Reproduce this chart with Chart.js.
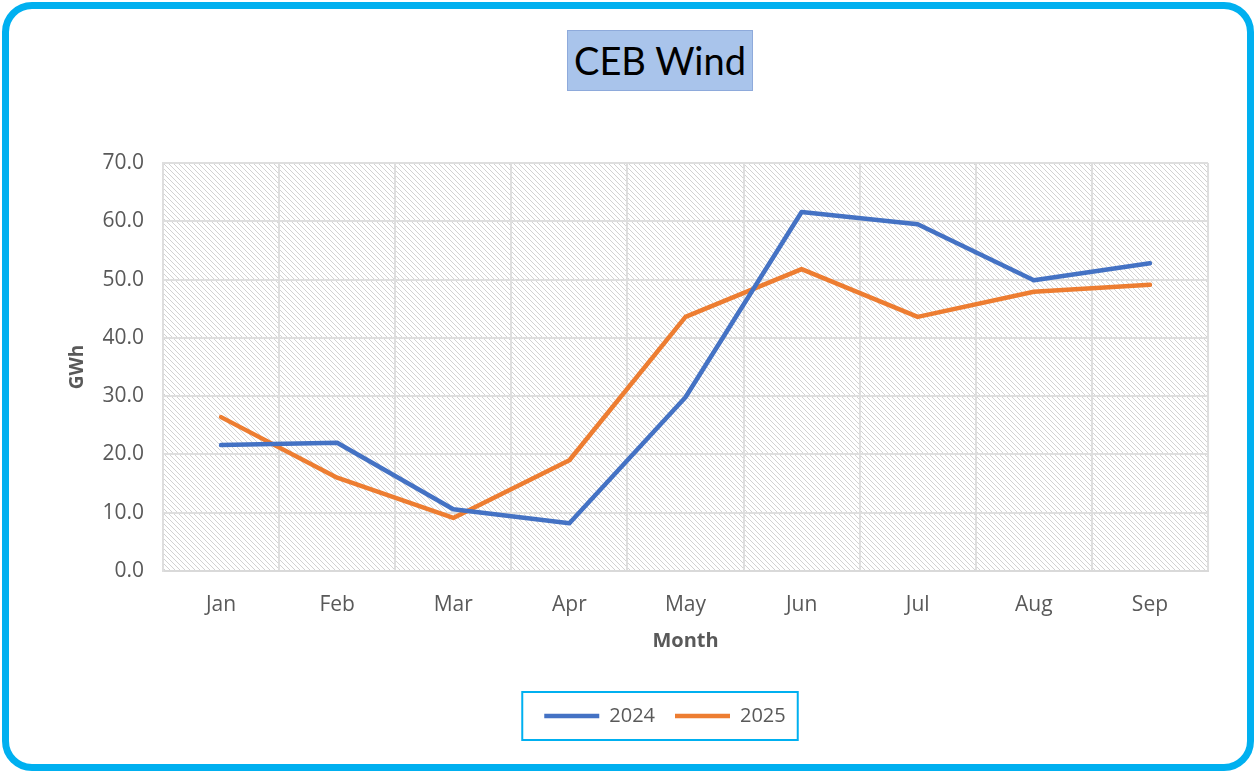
<!DOCTYPE html>
<html>
<head>
<meta charset="utf-8">
<script src="https://cdn.jsdelivr.net/npm/chart.js@4.4.0/dist/chart.umd.min.js"></script>
<style>
  html, body { margin: 0; padding: 0; background: #fff; }
  #frame {
    position: absolute; left: 2px; top: 2px; width: 1252px; height: 769px;
    box-sizing: border-box; border: 7px solid #00B0F0; border-radius: 30px;
  }
  #wrap { position: absolute; left: 0; top: 0; width: 1256px; height: 773px; }
  #title {
    position: absolute; left: 567px; top: 30px; width: 186px; height: 61px;
    box-sizing: border-box; background: #A9C4EB; border: 1px solid #8EAADB;
    font-family: Lato, sans-serif; font-size: 38px; color: #000;
    text-align: center; line-height: 59px;
  }
</style>
</head>
<body>
<div id="frame"></div>
<div id="wrap"><canvas id="chart" width="1256" height="773"></canvas></div>
<div id="title">CEB Wind</div>
<script>
// Données (GWh)
const months = ['Jan', 'Feb', 'Mar', 'Apr', 'May', 'Jun', 'Jul', 'Aug', 'Sep'];
const wind2024 = [21.6, 22.0, 10.6, 8.2, 29.8, 61.6, 59.5, 49.9, 52.8];
const wind2025 = [26.4, 16.0, 9.1, 19.0, 43.6, 51.8, 43.6, 47.9, 49.1];
const seriesNames = ['2024', '2025'];

const textColor = '#595959';
const gridColor = '#DEDEDE';
const fontFamily = 'Open Sans';
const legendShift = 30;

// Motif hachuré du fond
function makeHatch() {
  const n = 5;
  const c = document.createElement('canvas');
  c.width = n; c.height = n;
  const g = c.getContext('2d');
  g.fillStyle = '#fff';
  g.fillRect(0, 0, n, n);
  g.fillStyle = '#D2D2D2';
  for (let i = 0; i < n; i++) {
    g.fillRect(i, i, 1, 1);
  }
  return c;
}

const hatchPlugin = {
  id: 'hatch',
  beforeDraw(chart) {
    const { ctx, chartArea: a } = chart;
    ctx.save();
    ctx.fillStyle = ctx.createPattern(makeHatch(), 'repeat');
    ctx.fillRect(a.left, a.top, a.right - a.left, a.bottom - a.top);
    ctx.restore();
  }
};

// Décale la légende et trace son cadre
const legendBoxPlugin = {
  id: 'legendBox',
  afterLayout(chart) {
    const lg = chart.legend;
    lg.left += legendShift;
    lg.right += legendShift;
    lg.legendHitBoxes.forEach(b => { b.left += legendShift; });
  },
  afterDraw(chart) {
    const boxes = chart.legend.legendHitBoxes;
    if (!boxes || !boxes.length) return;
    const first = boxes[0], last = boxes[boxes.length - 1];
    const x0 = first.left - 22, x1 = last.left + last.width + 12;
    const y0 = first.top - 14, y1 = first.top + first.height + 14;
    const ctx = chart.ctx;
    ctx.save();
    ctx.strokeStyle = '#00B0F0';
    ctx.lineWidth = 2;
    ctx.strokeRect(x0, y0, x1 - x0, y1 - y0);
    ctx.restore();
  }
};

const ctx = document.getElementById('chart').getContext('2d');
new Chart(ctx, {
  type: 'line',
  data: {
    labels: months,
    datasets: [
      {
        label: seriesNames[0],
        data: wind2024,
        borderColor: '#4472C4',
        backgroundColor: '#4472C4',
        borderWidth: 4.5,
        borderCapStyle: 'round',
        borderJoinStyle: 'round',
        pointRadius: 0,
        tension: 0
      },
      {
        label: seriesNames[1],
        data: wind2025,
        borderColor: '#ED7D31',
        backgroundColor: '#ED7D31',
        borderWidth: 4.5,
        borderCapStyle: 'round',
        borderJoinStyle: 'round',
        pointRadius: 0,
        tension: 0
      }
    ]
  },
  options: {
    responsive: false,
    animation: false,
    layout: { padding: { left: 62, top: 163, right: 48, bottom: 37 } },
    plugins: {
      title: { display: false },
      tooltip: { enabled: false },
      legend: {
        position: 'bottom',
        labels: {
          usePointStyle: true,
          pointStyle: 'line',
          pointStyleWidth: 55,
          color: textColor,
          font: { family: fontFamily, size: 20 },
          padding: 20
        }
      }
    },
    scales: {
      x: {
        offset: true,
        grid: { offset: true, color: gridColor, lineWidth: 2, drawTicks: false },
        border: { color: '#D9D9D9', width: 2 },
        ticks: { color: textColor, font: { family: fontFamily, size: 21 }, padding: 21 },
        title: {
          display: true, text: 'Month', color: textColor,
          font: { family: fontFamily, size: 20, weight: 'bold' },
          padding: { top: 0, bottom: 33 }
        },
        afterFit(scale) { scale.height = 115; }
      },
      y: {
        min: 0,
        max: 70,
        grid: { color: gridColor, lineWidth: 2, drawTicks: false },
        border: { color: gridColor, width: 2 },
        ticks: {
          stepSize: 10,
          color: textColor,
          font: { family: fontFamily, size: 21 },
          padding: 19,
          callback: v => v.toFixed(1)
        },
        title: {
          display: true, text: 'GWh', color: textColor,
          font: { family: fontFamily, size: 19, weight: 'bold' },
          padding: 4
        },
        afterFit(scale) { scale.width = 101; }
      }
    }
  },
  plugins: [hatchPlugin, legendBoxPlugin]
});
</script>
</body>
</html>
